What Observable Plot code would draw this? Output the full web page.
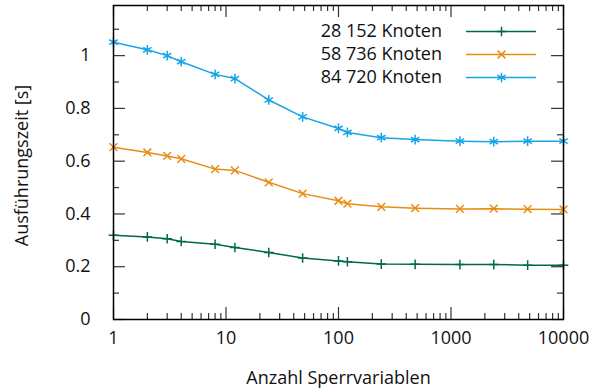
<!DOCTYPE html>
<html>
<head>
<meta charset="utf-8">
<script src="https://cdn.jsdelivr.net/npm/d3@7"></script>
<script src="https://cdn.jsdelivr.net/npm/@observablehq/plot@0.6"></script>
<style>
  html, body { margin: 0; padding: 0; background: #fff; }
  #chart { width: 591px; height: 391px; }
</style>
</head>
<body>
<div id="chart"></div>
<script>
// ---- data ----
const sperrvariablen = [1, 2, 3, 4, 8, 12, 24, 48, 100, 120, 240, 480, 1200, 2400, 4800, 10000];
const seriesNames = ["28 152 Knoten", "58 736 Knoten", "84 720 Knoten"];
const seriesColors = ["#00684f", "#e88d14", "#17a4e8"];
const seriesSymbols = ["plus", "times", "asterisk"];
const zeit28152 = [0.319, 0.313, 0.306, 0.296, 0.285, 0.273, 0.254, 0.233, 0.222, 0.219, 0.210, 0.209, 0.208, 0.208, 0.206, 0.206];
const zeit58736 = [0.653, 0.633, 0.620, 0.609, 0.570, 0.565, 0.520, 0.477, 0.450, 0.439, 0.427, 0.422, 0.419, 0.420, 0.418, 0.417];
const zeit84720 = [1.051, 1.022, 1.000, 0.977, 0.929, 0.913, 0.832, 0.768, 0.724, 0.709, 0.689, 0.682, 0.676, 0.674, 0.676, 0.676];
const xTickLabels = [1, 10, 100, 1000, 10000];
const yTickLabels = [0, 0.2, 0.4, 0.6, 0.8, 1];
const yMinorTicks = [0.1, 0.3, 0.5, 0.7, 0.9, 1.1];
const xMinorTicks = [1, 10, 100, 1000].flatMap(d => [2, 3, 4, 5, 6, 7, 8, 9].map(m => m * d));
const xTitle = "Anzahl Sperrvariablen";
const yTitle = "Ausführungszeit [s]";

// ---- build table ----
const allSeries = [zeit28152, zeit58736, zeit84720];
const rows = allSeries.flatMap((vals, s) =>
  sperrvariablen.map((x, i) => ({x, t: vals[i], s: seriesNames[s]})));

const W = 591, H = 391;
const mL = 113, mR = 28, mT = 5, mB = 72;
const fw = W - mL - mR, fh = H - mT - mB;
const major = 12, minor = 6;
const tickColor = "#333";
const font = "'Open Sans', sans-serif";
const symbolR = [3.2, 3.6, 4.6];

const marks = [];
// ticks (inward, mirrored on all sides)
marks.push(Plot.tickY(yTickLabels, {y: d => d, insetRight: fw - major, stroke: tickColor, strokeWidth: 1.2}));
marks.push(Plot.tickY(yTickLabels, {y: d => d, insetLeft: fw - major, stroke: tickColor, strokeWidth: 1.2}));
marks.push(Plot.tickY(yMinorTicks, {y: d => d, insetRight: fw - minor, stroke: tickColor, strokeWidth: 1.2}));
marks.push(Plot.tickY(yMinorTicks, {y: d => d, insetLeft: fw - minor, stroke: tickColor, strokeWidth: 1.2}));
marks.push(Plot.tickX(xTickLabels, {x: d => d, insetTop: fh - major, stroke: tickColor, strokeWidth: 1.2}));
marks.push(Plot.tickX(xTickLabels, {x: d => d, insetBottom: fh - major, stroke: tickColor, strokeWidth: 1.2}));
marks.push(Plot.tickX(xMinorTicks, {x: d => d, insetTop: fh - minor, stroke: tickColor, strokeWidth: 1.2}));
marks.push(Plot.tickX(xMinorTicks, {x: d => d, insetBottom: fh - minor, stroke: tickColor, strokeWidth: 1.2}));

// axes labels
marks.push(Plot.axisX({ticks: xTickLabels, tickSize: 0, tickPadding: 12, tickFormat: d => String(d), label: null, fontSize: 18, fill: "#111"}));
marks.push(Plot.axisY({ticks: yTickLabels, tickSize: 0, tickPadding: 23, tickFormat: d => String(d), label: null, fontSize: 18, fill: "#111"}));

// data lines and markers
seriesNames.forEach((name, s) => {
  const data = rows.filter(d => d.s === name);
  marks.push(Plot.line(data, {x: "x", y: "t", stroke: seriesColors[s], strokeWidth: 1.5}));
  marks.push(Plot.dot(data, {x: "x", y: "t", symbol: seriesSymbols[s], stroke: seriesColors[s], strokeWidth: 1.5, r: symbolR[s]}));
});

// legend
const legendRowY = [31, 54, 77];
seriesNames.forEach((name, s) => {
  const dy = legendRowY[s] - mT;
  marks.push(Plot.text([name], {x: null, y: null, text: d => d, frameAnchor: "top-left", dx: 441.5 - mL, dy, textAnchor: "end", lineAnchor: "middle", fontSize: 18, fill: "#111"}));
  marks.push(Plot.ruleY([name], {y: null, stroke: seriesColors[s], strokeWidth: 1.5, insetLeft: 466 - mL, insetRight: W - mR - 536, dy: legendRowY[s] - (mT + H - mB) / 2}));
  marks.push(Plot.dot([name], {x: null, y: null, frameAnchor: "top-left", dx: 501 - mL, dy, symbol: seriesSymbols[s], stroke: seriesColors[s], strokeWidth: 1.5, r: symbolR[s]}));
});

// titles
marks.push(Plot.text([xTitle], {x: null, y: null, text: d => d, frameAnchor: "bottom", dy: 59, textAnchor: "middle", lineAnchor: "middle", fontSize: 18, fill: "#111"}));
marks.push(Plot.text([yTitle], {x: null, y: null, text: d => d, frameAnchor: "left", dx: 22 - mL, dy: 3, rotate: -90, textAnchor: "middle", lineAnchor: "middle", fontSize: 18, fill: "#111"}));

marks.push(Plot.frame({stroke: "#000", strokeWidth: 1.5}));

const chart = Plot.plot({
  width: W, height: H,
  marginLeft: mL, marginRight: mR, marginTop: mT, marginBottom: mB,
  style: {fontFamily: font, fontSize: "18px", background: "#fff", color: "#111"},
  x: {type: "log", domain: [1, 10000], axis: null},
  y: {domain: [0, 1.19], axis: null},
  marks
});
document.getElementById("chart").appendChild(chart);
</script>
</body>
</html>
